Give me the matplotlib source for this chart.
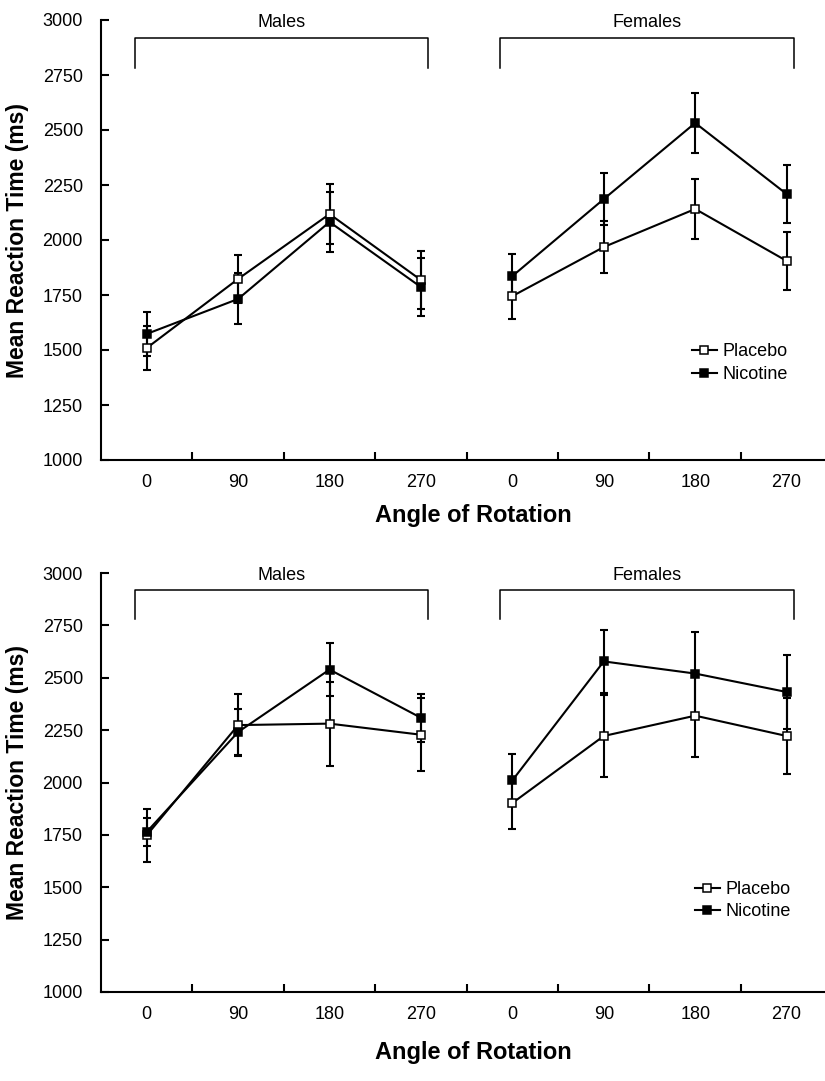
"""Mean reaction time by angle of rotation, placebo vs nicotine (two experiments)."""

import matplotlib

matplotlib.use("Agg")
import matplotlib.pyplot as plt
from matplotlib.ticker import FixedLocator

plt.rcParams["font.family"] = ["Liberation Sans", "DejaVu Sans"]

ANGLES = ["0", "90", "180", "270"]
GROUPS = ["Males", "Females"]

# top panel
male_placebo_1 = [1509, 1823, 2118, 1818]
male_placebo_1_err = [100, 110, 137, 132]
male_nicotine_1 = [1573, 1732, 2082, 1786]
male_nicotine_1_err = [100, 116, 136, 132]
female_placebo_1 = [1745, 1968, 2141, 1905]
female_placebo_1_err = [104, 118, 135, 132]
female_nicotine_1 = [1836, 2186, 2532, 2209]
female_nicotine_1_err = [100, 119, 136, 132]

# bottom panel
male_placebo_2 = [1748, 2274, 2281, 2228]
male_placebo_2_err = [127, 148, 200, 175]
male_nicotine_2 = [1764, 2241, 2539, 2309]
male_nicotine_2_err = [66, 110, 127, 115]
female_placebo_2 = [1902, 2222, 2319, 2222]
female_placebo_2_err = [122, 198, 195, 180]
female_nicotine_2 = [2010, 2578, 2520, 2432]
female_nicotine_2_err = [124, 150, 200, 175]

Y_TICKS = list(range(1000, 3001, 250))

LW = 1.5
FS = 13


def draw_series(ax, x, y, err, filled, label=None):
    ax.errorbar(x, y, yerr=err, fmt="none", ecolor="black",
                elinewidth=LW, capsize=2.6, capthick=LW, zorder=2)
    ax.plot(x, y, "-s", color="black", lw=LW, ms=5.2, mew=1.1,
            mfc="black" if filled else "white", mec="black",
            label=label, zorder=3)


def draw_bracket(ax, x0, x1, text):
    ax.plot([x0, x0, x1, x1], [2782, 2918, 2918, 2782], color="black",
            lw=1.1, clip_on=False, zorder=1)
    ax.text((x0 + x1) / 2, 2990, text, ha="center", va="center",
            fontsize=FS)


def make_panel(ax, males, females, legend_xy, xlabel_y):
    xm = [0, 1, 2, 3]
    xf = [4, 5, 6, 7]
    (mp, mpe, mn, mne) = males
    (fp, fpe, fn, fne) = females
    draw_series(ax, xm, mp, mpe, False, "Placebo")
    draw_series(ax, xm, mn, mne, True, "Nicotine")
    draw_series(ax, xf, fp, fpe, False)
    draw_series(ax, xf, fn, fne, True)

    draw_bracket(ax, -0.13, 3.08, GROUPS[0])
    draw_bracket(ax, 3.87, 7.08, GROUPS[1])

    ax.set_ylim(1000, 3000)
    ax.set_xlim(-0.5, 7.42)
    ax.set_yticks(Y_TICKS)
    ax.set_xticks(xm + xf)
    ax.set_xticklabels(ANGLES * 2)
    ax.xaxis.set_minor_locator(FixedLocator([i + 0.5 for i in range(7)]))
    ax.tick_params(axis="x", which="major", length=0, pad=10, labelsize=FS)
    ax.tick_params(axis="x", which="minor", direction="in", length=6,
                   width=LW)
    ax.tick_params(axis="y", direction="in", length=6, width=LW, pad=13,
                   labelsize=FS)
    for side in ("top", "right"):
        ax.spines[side].set_visible(False)
    for side in ("left", "bottom"):
        ax.spines[side].set_linewidth(LW)

    ax.set_ylabel("Mean Reaction Time (ms)", fontsize=16.5, fontweight="bold")
    ax.yaxis.set_label_coords(-0.1, 0.5)
    ax.set_xlabel("Angle of Rotation", fontsize=17, fontweight="bold")
    ax.xaxis.set_label_coords(0.515, xlabel_y)

    ax.legend(loc="center left", bbox_to_anchor=legend_xy, frameon=False,
              fontsize=FS, handlelength=1.4, handletextpad=0.3,
              labelspacing=0.3, borderpad=0, borderaxespad=0)


def main():
    fig = plt.figure(figsize=(8.25, 10.81), dpi=100)
    W, H = 825, 1081
    ax1 = fig.add_axes([101 / W, 1 - 460 / H, (W - 101) / W, 440 / H])
    ax2 = fig.add_axes([101 / W, 1 - 992 / H, (W - 101) / W, 419 / H])

    make_panel(ax1,
               (male_placebo_1, male_placebo_1_err, male_nicotine_1, male_nicotine_1_err),
               (female_placebo_1, female_placebo_1_err, female_nicotine_1, female_nicotine_1_err),
               (0.816, 0.22), -0.1)
    make_panel(ax2,
               (male_placebo_2, male_placebo_2_err, male_nicotine_2, male_nicotine_2_err),
               (female_placebo_2, female_placebo_2_err, female_nicotine_2, female_nicotine_2_err),
               (0.82, 0.218), -0.118)

    fig.savefig("out.png", dpi=100)
    plt.close(fig)


if __name__ == "__main__":
    main()
